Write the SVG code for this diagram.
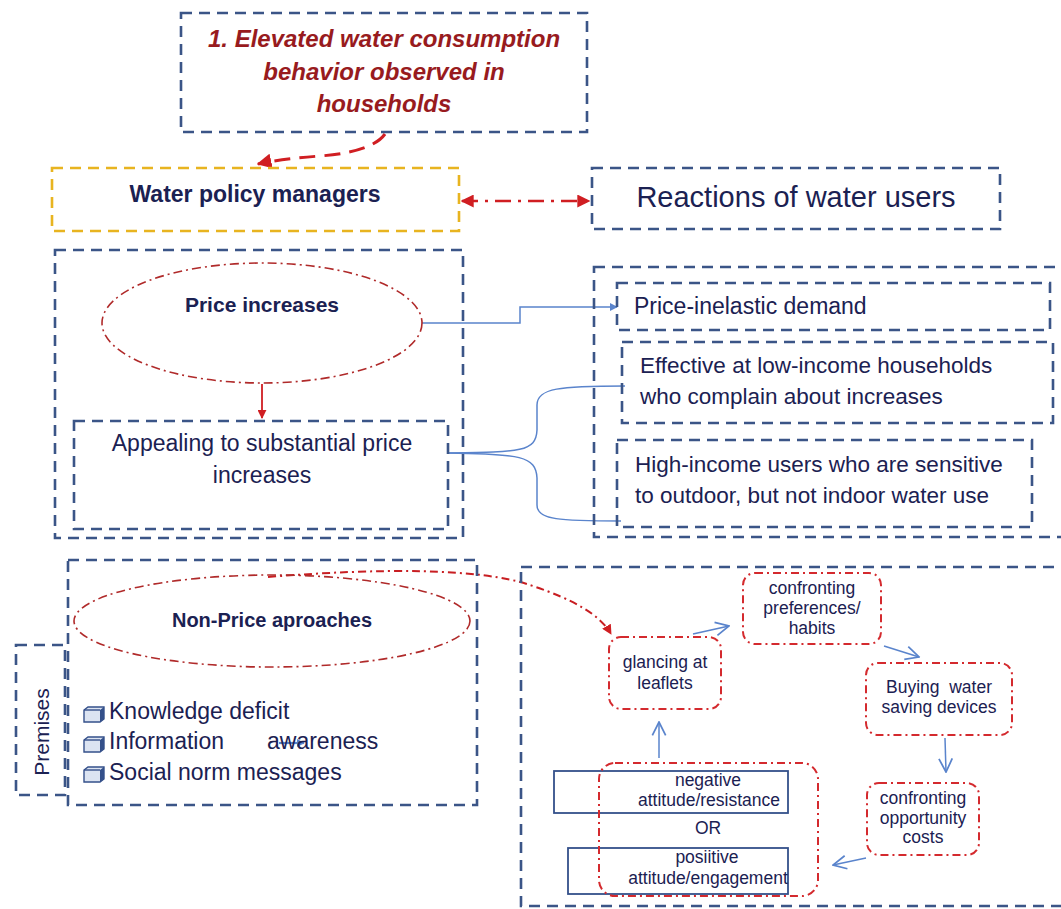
<svg xmlns="http://www.w3.org/2000/svg" width="1061" height="909" viewBox="0 0 1061 909">
<style>
.nv{fill:none;stroke:#3B5587;stroke-width:2.6;stroke-dasharray:11 7}
.yl{fill:none;stroke:#E8B420;stroke-width:2.6;stroke-dasharray:11 7}
.rde{fill:none;stroke:#B02A2A;stroke-width:1.6;stroke-dasharray:9 4 2 4}
.rdb{fill:none;stroke:#D42A2E;stroke-width:2;stroke-dasharray:8 4 2 4}
.t{font-family:"Liberation Sans",Arial,sans-serif;fill:#1B2152}
.b{font-weight:bold}
.bl{fill:none;stroke:#5A84CC;stroke-width:1.5}
.sq{fill:none;stroke:#34508A;stroke-width:1.8}
</style>
<defs>
<marker id="rh" viewBox="0 0 10 10" refX="9" refY="5" markerWidth="5" markerHeight="5" orient="auto-start-reverse"><path d="M0,0L10,5L0,10z" fill="#D01E22"/></marker>
<marker id="bh" viewBox="0 0 10 10" refX="9" refY="5" markerWidth="8" markerHeight="8" orient="auto" markerUnits="userSpaceOnUse"><path d="M0,0L10,5L0,10z" fill="#5A84CC"/></marker>
<marker id="bo" viewBox="0 0 12 12" refX="11" refY="6" markerWidth="16" markerHeight="16" orient="auto" markerUnits="userSpaceOnUse"><path d="M1,1L11,6L1,11" fill="none" stroke="#5A84CC" stroke-width="1.3"/></marker>
<g id="cube"><path d="M0,-12 L4,-15 L20,-15 L20,-3 L16,0 L0,0 Z" fill="#DCE4F2" stroke="#34508A" stroke-width="1.4"/><path d="M16,-12 L16,0 L20,-3 L20,-15 Z" fill="#34508A"/><path d="M0,-12 L16,-12" stroke="#34508A" stroke-width="1.4"/></g>
</defs>
<rect width="1061" height="909" fill="#fff"/>

<g id="connectors">
<path d="M385,134 Q372,152 320,156 Q280,159 258,164" fill="none" stroke="#D01E22" stroke-width="3" stroke-dasharray="16 9" marker-end="url(#rh)"/>
<path d="M462,201 L589,201" fill="none" stroke="#D01E22" stroke-width="2.6" stroke-dasharray="16 7 3 7" marker-start="url(#rh)" marker-end="url(#rh)"/>
<path d="M422,323 L520,323 L520,307 L617,307" class="bl" marker-end="url(#bh)"/>
<path d="M262,384 L262,418" fill="none" stroke="#D01E22" stroke-width="1.8" marker-end="url(#rh)"/>
<path d="M448,453 C520,452 536,452 537,430 L537,405 C537,388 560,386 625,386" class="bl"/>
<path d="M448,453 C520,454 536,456 537,478 L537,505 C537,520 560,521 621,521" class="bl"/>
<path d="M268,577 C380,568 480,568 530,585 C575,600 600,615 611,634" fill="none" stroke="#C81E22" stroke-width="2" stroke-dasharray="8 4 2 4" marker-end="url(#rh)"/>
<path d="M693,634 L729,626" class="bl" marker-end="url(#bo)"/>
<path d="M884,646 L919,657" class="bl" marker-end="url(#bo)"/>
<path d="M945,738 L946,772" class="bl" marker-end="url(#bo)"/>
<path d="M866,858 L833,865" class="bl" marker-end="url(#bo)"/>
<path d="M659,758 L659,722" class="bl" marker-end="url(#bo)"/>
<path d="M279,743 L304,743" fill="none" stroke="#5A84CC" stroke-width="2.2" marker-end="url(#bh)"/>
</g>

<g id="n-title">
<rect x="181" y="13" width="406" height="119" class="nv"/>
<text class="t b" font-style="italic" font-size="24" style="fill:#981B1E" text-anchor="middle"><tspan x="384" y="47">1. Elevated water consumption</tspan><tspan x="384" y="80">behavior observed in</tspan><tspan x="384" y="112">households</tspan></text>
</g>

<g id="n-managers">
<rect x="52" y="168" width="407" height="63" class="yl"/>
<text class="t b" font-size="23" x="255" y="202" text-anchor="middle">Water policy managers</text>
</g>

<g id="n-reactions">
<rect x="592" y="168" width="408" height="61" class="nv"/>
<text class="t" font-size="29" x="796" y="207" text-anchor="middle">Reactions of water users</text>
</g>

<g id="n-price-group">
<rect x="55" y="250" width="408" height="288" class="nv"/>
</g>
<g id="n-price">
<ellipse cx="262" cy="323" rx="160" ry="60" class="rde"/>
<text class="t b" font-size="21" x="262" y="312" text-anchor="middle">Price increases</text>
</g>
<g id="n-appealing">
<rect x="74" y="421" width="374" height="108" class="nv"/>
<text class="t" font-size="23" text-anchor="middle"><tspan x="262" y="451">Appealing to substantial price</tspan><tspan x="262" y="483">increases</tspan></text>
</g>

<g id="n-reactions-group">
<rect x="594" y="267" width="480" height="270" class="nv"/>
</g>
<g id="n-inelastic">
<rect x="617" y="283" width="433" height="47" class="nv"/>
<text class="t" font-size="23" x="634" y="314">Price-inelastic demand</text>
</g>
<g id="n-lowincome">
<rect x="622" y="342" width="431" height="81" class="nv"/>
<text class="t" font-size="22.5"><tspan x="640" y="373">Effective at low-income households</tspan><tspan x="640" y="404">who complain about increases</tspan></text>
</g>
<g id="n-highincome">
<rect x="617" y="440" width="415" height="87" class="nv"/>
<text class="t" font-size="22.5"><tspan x="635" y="472">High-income users who are sensitive</tspan><tspan x="635" y="503">to outdoor, but not indoor water use</tspan></text>
</g>

<g id="n-nonprice-group">
<rect x="68" y="560" width="409" height="245" class="nv"/>
</g>
<g id="n-nonprice">
<ellipse cx="272" cy="621" rx="198" ry="46" class="rde"/>
<text class="t b" font-size="20" x="272" y="627" text-anchor="middle">Non-Price aproaches</text>
</g>
<g id="n-premises">
<rect x="16" y="645" width="49" height="150" class="nv"/>
<text class="t" font-size="21" transform="translate(49,732) rotate(-90)" text-anchor="middle">Premises</text>
</g>
<g id="n-list">
<use href="#cube" x="84" y="722"/>
<use href="#cube" x="84" y="752"/>
<use href="#cube" x="84" y="782"/>
<text class="t" font-size="23" x="109" y="719">Knowledge deficit</text>
<text class="t" font-size="23" x="109" y="749">Information</text>
<text class="t" font-size="23" x="267" y="749">awareness</text>
<text class="t" font-size="23" x="109" y="780">Social norm messages</text>
</g>

<g id="n-cycle-group">
<rect x="521" y="567" width="560" height="339" class="nv"/>
</g>
<g id="n-glancing">
<rect x="609" y="637" width="112" height="72" rx="12" class="rdb"/>
<text class="t" font-size="17.5" text-anchor="middle"><tspan x="665" y="668">glancing at</tspan><tspan x="665" y="689">leaflets</tspan></text>
</g>
<g id="n-preferences">
<rect x="743" y="573" width="138" height="71" rx="12" class="rdb"/>
<text class="t" font-size="17.5" text-anchor="middle"><tspan x="812" y="594">confronting</tspan><tspan x="812" y="614">preferences/</tspan><tspan x="812" y="634">habits</tspan></text>
</g>
<g id="n-buying">
<rect x="866" y="663" width="146" height="72" rx="12" class="rdb"/>
<text class="t" font-size="17.5" text-anchor="middle" style="white-space:pre"><tspan x="939" y="693">Buying  water</tspan><tspan x="939" y="713">saving devices</tspan></text>
</g>
<g id="n-opportunity">
<rect x="867" y="783" width="112" height="72" rx="12" class="rdb"/>
<text class="t" font-size="17.5" text-anchor="middle"><tspan x="923" y="804">confronting</tspan><tspan x="923" y="824">opportunity</tspan><tspan x="923" y="843">costs</tspan></text>
</g>
<g id="n-attitude">
<rect x="554" y="771" width="234" height="42" class="sq"/>
<rect x="568" y="848" width="220" height="46" class="sq"/>
<rect x="599" y="763" width="219" height="133" rx="16" class="rdb"/>
<text class="t" font-size="17.5" text-anchor="middle"><tspan x="708" y="786">negative</tspan><tspan x="709" y="806">attitude/resistance</tspan></text>
<text class="t" font-size="17.5" x="708" y="834" text-anchor="middle">OR</text>
<text class="t" font-size="17.5" text-anchor="middle"><tspan x="707" y="863">posiitive</tspan><tspan x="708" y="884">attitude/engagement</tspan></text>
</g>
</svg>
